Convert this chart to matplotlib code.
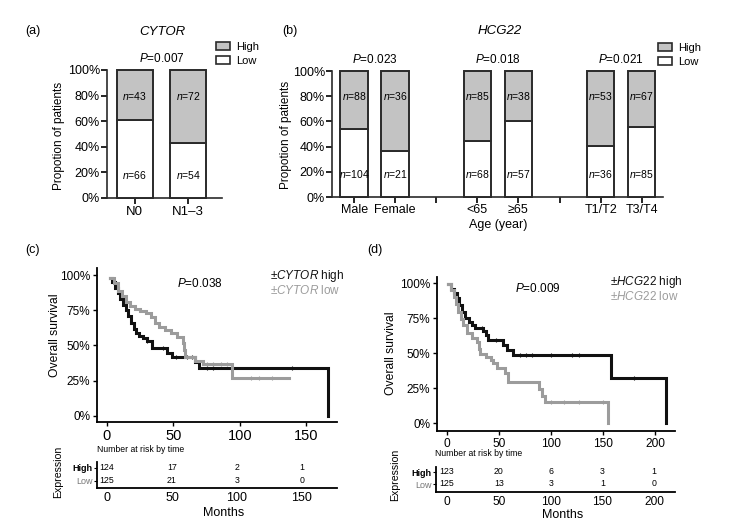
import numpy as np
import matplotlib.pyplot as plt
from matplotlib.patches import Patch

plt.rcParams['font.family'] = ['Liberation Sans', 'DejaVu Sans']
plt.rcParams['mathtext.fontset'] = 'custom'
plt.rcParams['mathtext.rm'] = 'Liberation Sans'
plt.rcParams['mathtext.it'] = 'Liberation Sans:italic'

# ---- bar chart data (counts) ----
a_cats = ['N0', 'N1\u20133']
a_high = [43, 72]
a_low = [66, 54]

b_cats = ['Male', 'Female', '', '<65', '\u226565', '', 'T1/T2', 'T3/T4']
b_pos = [0, 1, 3, 4, 6, 7]
b_high = [88, 36, 85, 38, 53, 67]
b_low = [104, 21, 68, 57, 36, 85]
b_pvals = ['0.023', '0.018', '0.021']

# ---- KM curves (time in months, survival) ----
c_high_t = [2, 4, 6, 8, 10, 12, 14, 16, 18, 20, 22, 24, 27, 30, 34, 45, 49, 66, 69, 166]
c_high_s = [0.98, 0.95, 0.91, 0.87, 0.83, 0.79, 0.75, 0.71, 0.66, 0.62, 0.59, 0.57, 0.555, 0.53, 0.48, 0.45, 0.42, 0.38, 0.34, 0.0]
c_low_t = [2, 5, 8, 11, 14, 17, 21, 25, 29, 33, 36, 39, 44, 48, 53, 57, 58, 59, 66, 72, 94, 137]
c_low_s = [0.98, 0.94, 0.89, 0.85, 0.81, 0.78, 0.76, 0.745, 0.73, 0.70, 0.66, 0.63, 0.61, 0.59, 0.56, 0.52, 0.47, 0.42, 0.39, 0.37, 0.27, 0.27]
c_high_cens = [30, 42, 52, 60, 64, 75, 80, 139]
c_low_cens = [75, 80, 86, 90, 108, 114, 124]

d_high_t = [1, 4, 7, 10, 12, 14, 17, 21, 24, 27, 35, 37, 39, 54, 58, 63, 158, 210]
d_high_s = [0.99, 0.96, 0.93, 0.89, 0.84, 0.79, 0.75, 0.72, 0.70, 0.68, 0.66, 0.63, 0.59, 0.56, 0.52, 0.485, 0.32, 0.0]
d_low_t = [1, 4, 7, 9, 11, 13, 15, 19, 24, 29, 31, 32, 37, 42, 44, 48, 56, 59, 88, 91, 94, 155]
d_low_s = [0.99, 0.95, 0.90, 0.85, 0.79, 0.74, 0.70, 0.64, 0.61, 0.58, 0.53, 0.49, 0.47, 0.45, 0.43, 0.39, 0.36, 0.29, 0.24, 0.19, 0.15, 0.0]
d_high_cens = [34, 47, 70, 76, 82, 100, 120, 127, 180]
d_low_cens = [100, 112, 127, 150]

# ---- number at risk ----
c_risk_t = [0, 50, 100, 150]
c_risk_high = [124, 17, 2, 1]
c_risk_low = [125, 21, 3, 0]
d_risk_t = [0, 50, 100, 150, 200]
d_risk_high = [123, 20, 6, 3, 1]
d_risk_low = [125, 13, 3, 1, 0]

W, H = 738, 532
fig = plt.figure(figsize=(W / 100, H / 100), dpi=100)


def box(x0, y0, x1, y1):
    return [x0 / W, 1 - y1 / H, (x1 - x0) / W, (y1 - y0) / H]


def ftext(x, y, s, **kw):
    fig.text(x / W, 1 - y / H, s, **kw)


gray_fill = '#c3c3c3'
edge = '#2a2a2a'


def stacked(ax, pos, high, low, fs_n):
    high = np.array(high, float)
    low = np.array(low, float)
    frac_low = low / (high + low)
    ax.bar(pos, frac_low, 0.67, color='white', edgecolor=edge, lw=1.4, clip_on=False, zorder=3)
    ax.bar(pos, 1 - frac_low, 0.67, bottom=frac_low, color=gray_fill, edgecolor=edge, lw=1.4,
           clip_on=False, zorder=3)
    for p, h, l in zip(pos, high, low):
        ax.text(p, 0.8, '$n$=%d' % h, ha='center', va='center', fontsize=fs_n, zorder=4)
        ax.text(p, 0.18, '$n$=%d' % l, ha='center', va='center', fontsize=fs_n, zorder=4)
    ax.set_ylim(0, 1)
    ax.set_yticks(np.linspace(0, 1, 6))
    ax.set_yticklabels(['%d%%' % v for v in range(0, 101, 20)], fontsize=9)
    for s in ['top', 'right']:
        ax.spines[s].set_visible(False)
    for s in ['left', 'bottom']:
        ax.spines[s].set_linewidth(1.2)
        ax.spines[s].set_color(edge)
    ax.tick_params(axis='y', length=4, width=1.2, pad=1)
    ax.tick_params(axis='x', length=4, width=1.2, pad=2)


# (a)
axa = fig.add_axes(box(107, 70, 222, 198))
stacked(axa, [0, 1], a_high, a_low, 7.5)
axa.set_xlim(-0.52, 1.63)
axa.set_xticks([0, 1])
axa.set_xticklabels(a_cats, fontsize=9.5)
axa.text(0.5, 1.086, '$P$=0.007', ha='center', va='center', fontsize=8.5)
axa.text(0.52, 1.30, 'CYTOR', ha='center', va='center', fontsize=9.5, style='italic')
ftext(59, 136, 'Propotion of patients', rotation=90, ha='center', va='center', fontsize=8.5)
ftext(33, 31, '(a)', ha='center', va='center', fontsize=9)
handles = [Patch(facecolor=gray_fill, edgecolor=edge, lw=1.2, label='High'),
           Patch(facecolor='white', edgecolor=edge, lw=1.2, label='Low')]
fig.legend(handles=handles, loc='upper left', bbox_to_anchor=(216 / W, 1 - 42 / H), frameon=False,
           fontsize=8, handlelength=1.3, handleheight=0.75, handletextpad=0.5, labelspacing=0.35,
           borderpad=0, borderaxespad=0)

# (b)
axb = fig.add_axes(box(332, 71, 663, 197))
stacked(axb, b_pos, b_high, b_low, 7.5)
axb.set_xlim(-0.54, 7.52)
axb.set_xticks(range(8))
axb.set_xticklabels(b_cats, fontsize=9)
axb.tick_params(axis='x', pad=1)
for x, p in zip([0.5, 3.5, 6.5], b_pvals):
    axb.text(x, 1.095, '$P$=' + p, ha='center', va='center', fontsize=8.5)
axb.text(3.55, 1.317, 'HCG22', ha='center', va='center', fontsize=9.5, style='italic')
axb.text(3.5, -0.22, 'Age (year)', ha='center', va='center', fontsize=9)
ftext(286, 135, 'Propotion of patients', rotation=90, ha='center', va='center', fontsize=8.5)
ftext(290, 31, '(b)', ha='center', va='center', fontsize=9)
fig.legend(handles=handles, loc='upper left', bbox_to_anchor=(658 / W, 1 - 43 / H), frameon=False,
           fontsize=8, handlelength=1.3, handleheight=0.75, handletextpad=0.5, labelspacing=0.35,
           borderpad=0, borderaxespad=0)


def step_value(t, s, x):
    i = np.searchsorted(t, x, side='right') - 1
    return s[max(i, 0)]


def km(ax, curves, xlim, ylim, xticks, xfs):
    for t, s, cens, col in curves:
        ax.plot(t, s, drawstyle='steps-post', color=col, lw=2.2, solid_joinstyle='miter')
        ys = [step_value(np.array(t), np.array(s), c) for c in cens]
        ax.plot(cens, ys, ls='none', marker='|', ms=3.5, mew=0.8, color=col)
    ax.set_xlim(*xlim)
    ax.set_ylim(*ylim)
    ax.set_xticks(xticks)
    ax.set_xticklabels([str(v) for v in xticks], fontsize=xfs)
    ax.set_yticks([0, 0.25, 0.5, 0.75, 1.0])
    ax.set_yticklabels(['0%', '25%', '50%', '75%', '100%'], fontsize=8.5)
    for sp in ['top', 'right']:
        ax.spines[sp].set_visible(False)
    for sp in ['left', 'bottom']:
        ax.spines[sp].set_linewidth(1.3)
    ax.tick_params(length=3, width=1, pad=2)


def risk(ax, times, high, low, xlim, xfs, yh, yl):
    for t, h, l in zip(times, high, low):
        ax.text(t, yh, str(h), ha='center', va='center', fontsize=6.3)
        ax.text(t, yl, str(l), ha='center', va='center', fontsize=6.3)
    ax.set_xlim(*xlim)
    ax.set_ylim(0, 1)
    ax.set_xticks(times)
    ax.set_xticklabels([str(v) for v in times], fontsize=xfs)
    ax.set_yticks([yl, yh])
    labs = ax.set_yticklabels(['Low', 'High'], fontsize=6.5)
    labs[0].set_color('#777777')
    labs[1].set_fontweight('bold')
    for sp in ['top', 'right']:
        ax.spines[sp].set_visible(False)
    for sp in ['left', 'bottom']:
        ax.spines[sp].set_linewidth(1.3)
    ax.tick_params(axis='x', length=0, pad=3)
    ax.tick_params(axis='y', length=2, width=0.8, pad=1)


black = '#111111'
grey = '#9c9c9c'

# (c)
axc = fig.add_axes(box(97, 268, 337, 422))
km(axc, [(c_high_t, c_high_s, c_high_cens, black), (c_low_t, c_low_s, c_low_cens, grey)],
   (-7.5, 173), (-0.043, 1.05), [0, 50, 100, 150], 10.5)
axc.text(0.43, 0.9, '$P$=0.038', transform=axc.transAxes, ha='center', va='center', fontsize=8.5)
ftext(270, 276, '\u00b1$\\mathit{CYTOR}$ high', ha='left', va='center', fontsize=8.5, color=black)
ftext(270, 291, '\u00b1$\\mathit{CYTOR}$ low', ha='left', va='center', fontsize=8.5, color=grey)
ftext(55, 335, 'Overall survival', rotation=90, ha='center', va='center', fontsize=8.7)
ftext(33, 250, '(c)', ha='center', va='center', fontsize=9)

axct = fig.add_axes(box(97, 462, 337, 488))
risk(axct, c_risk_t, c_risk_high, c_risk_low, (-7.7, 177), 9, 0.77, 0.27)
ftext(97, 449, 'Number at risk by time', ha='left', va='center', fontsize=6.2)
ftext(58, 472, 'Expression', rotation=90, ha='center', va='center', fontsize=7.6)
ftext(224, 513, 'Months', ha='center', va='center', fontsize=9)

# (d)
axd = fig.add_axes(box(437, 277, 675, 431))
km(axd, [(d_high_t, d_high_s, d_high_cens, black), (d_low_t, d_low_s, d_low_cens, grey)],
   (-9.6, 219), (-0.057, 1.043), [0, 50, 100, 150, 200], 8.6)
ftext(538, 289, '$P$=0.009', ha='center', va='center', fontsize=8.5)
ftext(610, 282, '\u00b1$\\mathit{HCG22}$ high', ha='left', va='center', fontsize=8.5, color=black)
ftext(610, 296, '\u00b1$\\mathit{HCG22}$ low', ha='left', va='center', fontsize=8.5, color=grey)
ftext(391, 353, 'Overall survival', rotation=90, ha='center', va='center', fontsize=8.7)
ftext(375, 250, '(d)', ha='center', va='center', fontsize=9)

axdt = fig.add_axes(box(436, 467, 675, 492))
risk(axdt, d_risk_t, d_risk_high, d_risk_low, (-10.6, 220), 8.6, 0.8, 0.32)
ftext(435, 454, 'Number at risk by time', ha='left', va='center', fontsize=6.2)
ftext(395, 475, 'Expression', rotation=90, ha='center', va='center', fontsize=7.6)
ftext(563, 515, 'Months', ha='center', va='center', fontsize=9)

fig.savefig('out.png', dpi=100)
